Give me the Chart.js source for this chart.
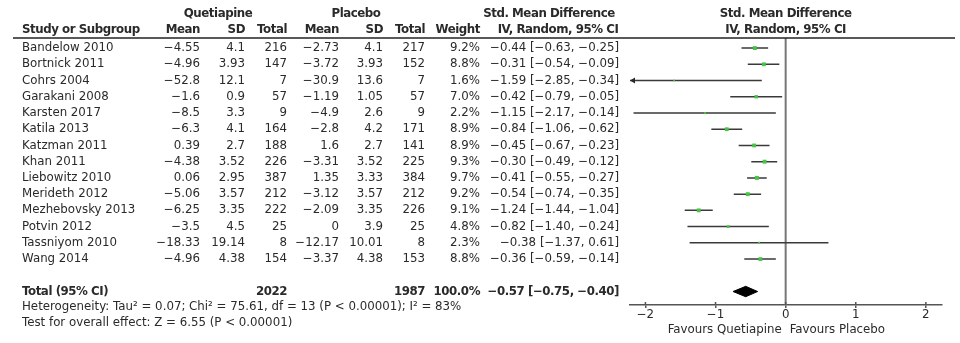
<!DOCTYPE html>
<html>
<head>
<meta charset="utf-8">
<script src="https://cdn.jsdelivr.net/npm/chart.js@4/dist/chart.umd.min.js"></script>
<style>
  html, body { margin: 0; padding: 0; background: #fff; }
  #forest { display: block; }
</style>
</head>
<body>
<canvas id="forest" width="960" height="343"></canvas>
<script>
/* ================= DATA ================= */
const studies = ["Bandelow 2010", "Bortnick 2011", "Cohrs 2004", "Garakani 2008", "Karsten 2017",
  "Katila 2013", "Katzman 2011", "Khan 2011", "Liebowitz 2010", "Merideth 2012",
  "Mezhebovsky 2013", "Potvin 2012", "Tassniyom 2010", "Wang 2014"];

const qMean  = [-4.55, -4.96, -52.8, -1.6, -8.5, -6.3, 0.39, -4.38, 0.06, -5.06, -6.25, -3.5, -18.33, -4.96];
const qSD    = [4.1, 3.93, 12.1, 0.9, 3.3, 4.1, 2.7, 3.52, 2.95, 3.57, 3.35, 4.5, 19.14, 4.38];
const qTotal = [216, 147, 7, 57, 9, 164, 188, 226, 387, 212, 222, 25, 8, 154];

const pMean  = [-2.73, -3.72, -30.9, -1.19, -4.9, -2.8, 1.6, -3.31, 1.35, -3.12, -2.09, 0, -12.17, -3.37];
const pSD    = [4.1, 3.93, 13.6, 1.05, 2.6, 4.2, 2.7, 3.52, 3.33, 3.57, 3.35, 3.9, 10.01, 4.38];
const pTotal = [217, 152, 7, 57, 9, 171, 141, 225, 384, 212, 226, 25, 8, 153];

const weight = [9.2, 8.8, 1.6, 7.0, 2.2, 8.9, 8.9, 9.3, 9.7, 9.2, 9.1, 4.8, 2.3, 8.8];
const smd    = [-0.44, -0.31, -1.59, -0.42, -1.15, -0.84, -0.45, -0.30, -0.41, -0.54, -1.24, -0.82, -0.38, -0.36];
const ciLow  = [-0.63, -0.54, -2.85, -0.79, -2.17, -1.06, -0.67, -0.49, -0.55, -0.74, -1.44, -1.40, -1.37, -0.59];
const ciHigh = [-0.25, -0.09, -0.34, -0.05, -0.14, -0.62, -0.23, -0.12, -0.27, -0.35, -1.04, -0.24, 0.61, -0.14];

const totalQ = 2022;
const totalP = 1987;
const totalWeight = 100.0;
const totalSmd = -0.57;
const totalLow = -0.75;
const totalHigh = -0.40;

const heterogeneityText = "Heterogeneity: Tau\u00b2 = 0.07; Chi\u00b2 = 75.61, df = 13 (P < 0.00001); I\u00b2 = 83%";
const overallText = "Test for overall effect: Z = 6.55 (P < 0.00001)";

const xTicks = [-2, -1, 0, 1, 2];

/* ================= LAYOUT ================= */
const X_MIN = -2.22, X_MAX = 2.23;
const Y_MIN = -0.62, Y_MAX = 15.83;   // row units, row 0 at top
const TOTAL_ROW = 15;
const DIAMOND_H = 0.32;
const FONT = "DejaVu Sans";
const FS = 11.8;      // body text
const FS_BOLD = 11.8; // headers and totals, drawn a little tighter
const INK = "#2a2a2a";

const minus = s => String(s).replace(/-/g, "\u2212");
const fmt2 = v => minus(v.toFixed(2));
const ciLabel = (e, l, h) => `${fmt2(e)} [${fmt2(l)}, ${fmt2(h)}]`;

/* ================= DATASETS ================= */
const ciSegments = studies.flatMap((_, i) => [
  { x: ciLow[i], y: i }, { x: ciHigh[i], y: i }, { x: null, y: null }
]);
const markers = studies.map((_, i) => ({ x: smd[i], y: i }));
const diamond = [
  { x: totalLow, y: TOTAL_ROW },
  { x: totalSmd, y: TOTAL_ROW - DIAMOND_H },
  { x: totalHigh, y: TOTAL_ROW },
  { x: totalSmd, y: TOTAL_ROW + DIAMOND_H },
  { x: totalLow, y: TOTAL_ROW }
];

/* ================= TABLE PLUGIN ================= */
const tablePlugin = {
  id: "forestTable",
  afterDraw(chart) {
    const c = chart.ctx;
    const ys = chart.scales.y;
    const xs = chart.scales.x;
    const area = chart.chartArea;
    const rowY = r => ys.getPixelForValue(r);

    const text = (s, x, y, align, bold) => {
      c.font = bold ? `bold ${FS_BOLD}px "${FONT}"` : `${FS}px "${FONT}"`;
      c.letterSpacing = bold ? "-0.45px" : "0px";
      c.textAlign = align;
      c.fillText(s, x, y);
    };

    c.save();
    c.fillStyle = INK;
    c.textBaseline = "middle";

    // header
    const h1 = 14, h2 = 30;
    const zx = xs.getPixelForValue(0);
    text("Quetiapine", 218, h1, "center", true);
    text("Placebo", 356, h1, "center", true);
    text("Std. Mean Difference", 549, h1, "center", true);
    text("Std. Mean Difference", zx, h1, "center", true);
    text("Study or Subgroup", 22, h2, "left", true);
    text("Mean", 200, h2, "right", true);
    text("SD", 245, h2, "right", true);
    text("Total", 287, h2, "right", true);
    text("Mean", 339, h2, "right", true);
    text("SD", 383, h2, "right", true);
    text("Total", 425, h2, "right", true);
    text("Weight", 480, h2, "right", true);
    text("IV, Random, 95% CI", 558, h2, "center", true);
    text("IV, Random, 95% CI", zx, h2, "center", true);

    // rule under header
    c.strokeStyle = "#222";
    c.lineWidth = 1.5;
    c.beginPath();
    c.moveTo(13, area.top);
    c.lineTo(955, area.top);
    c.stroke();

    // study rows
    studies.forEach((name, i) => {
      const y = rowY(i);
      text(name, 22, y, "left");
      text(minus(qMean[i]), 200, y, "right");
      text(String(qSD[i]), 245, y, "right");
      text(String(qTotal[i]), 287, y, "right");
      text(minus(pMean[i]), 339, y, "right");
      text(String(pSD[i]), 383, y, "right");
      text(String(pTotal[i]), 425, y, "right");
      text(weight[i].toFixed(1) + "%", 480, y, "right");
      text(ciLabel(smd[i], ciLow[i], ciHigh[i]), 619, y, "right");

      // arrow where the interval runs off the axis
      if (ciLow[i] < X_MIN) {
        const ax = area.left;
        c.beginPath();
        c.moveTo(ax, y);
        c.lineTo(ax + 5, y - 3);
        c.lineTo(ax + 5, y + 3);
        c.closePath();
        c.fill();
      }
    });

    // total row
    const ty = rowY(TOTAL_ROW);
    text("Total (95% CI)", 22, ty, "left", true);
    text(String(totalQ), 287, ty, "right", true);
    text(String(totalP), 425, ty, "right", true);
    text(totalWeight.toFixed(1) + "%", 480, ty, "right", true);
    text(ciLabel(totalSmd, totalLow, totalHigh), 619, ty, "right", true);

    text(heterogeneityText, 22, 307, "left");
    text(overallText, 22, 323, "left");

    // upper half of the axis tick marks
    c.strokeStyle = "#555";
    c.lineWidth = 1.5;
    xTicks.forEach(v => {
      const px = xs.getPixelForValue(v);
      c.beginPath();
      c.moveTo(px, area.bottom - 3);
      c.lineTo(px, area.bottom);
      c.stroke();
    });

    // favours labels either side of zero
    text("Favours Quetiapine", zx - 4, 330, "right");
    text("Favours Placebo", zx + 4, 330, "left");

    c.restore();
  }
};

/* ================= CHART ================= */
new Chart(document.getElementById("forest"), {
  type: "scatter",
  data: {
    datasets: [
      {
        label: "null line",
        data: [{ x: 0, y: Y_MIN }, { x: 0, y: Y_MAX }],
        showLine: true,
        borderColor: "#777",
        borderWidth: 2,
        pointRadius: 0,
        order: 4
      },
      {
        label: "95% CI",
        data: ciSegments,
        showLine: true,
        spanGaps: false,
        borderColor: "#3a3a3a",
        borderWidth: 1.5,
        pointRadius: 0,
        order: 3
      },
      {
        label: "Total",
        data: diamond,
        showLine: true,
        borderColor: "#000",
        backgroundColor: "#000",
        borderWidth: 1,
        fill: "shape",
        pointRadius: 0,
        order: 2
      },
      {
        label: "SMD",
        data: markers,
        pointStyle: "rect",
        pointRadius: weight.map(w => Math.sqrt(w) * 0.9),
        backgroundColor: "#45c445",
        borderWidth: 0,
        order: 1
      }
    ]
  },
  options: {
    responsive: false,
    animation: false,
    events: [],
    layout: { padding: { left: 630, right: 18, top: 38, bottom: 0 } },
    plugins: {
      legend: { display: false },
      tooltip: { enabled: false }
    },
    scales: {
      x: {
        type: "linear",
        min: X_MIN,
        max: X_MAX,
        afterBuildTicks: s => { s.ticks = xTicks.map(v => ({ value: v })); },
        afterFit: s => { s.height = 38; },
        border: { display: true, color: "#555", width: 1.5 },
        grid: { drawOnChartArea: false, drawTicks: true, tickLength: 3, color: "#555", lineWidth: 1.5 },
        ticks: {
          padding: 0,
          color: INK,
          font: { family: FONT, size: FS },
          maxRotation: 0,
          callback: v => minus(v)
        }
      },
      y: {
        type: "linear",
        display: false,
        reverse: true,
        min: Y_MIN,
        max: Y_MAX
      }
    }
  },
  plugins: [tablePlugin]
});
</script>
</body>
</html>
